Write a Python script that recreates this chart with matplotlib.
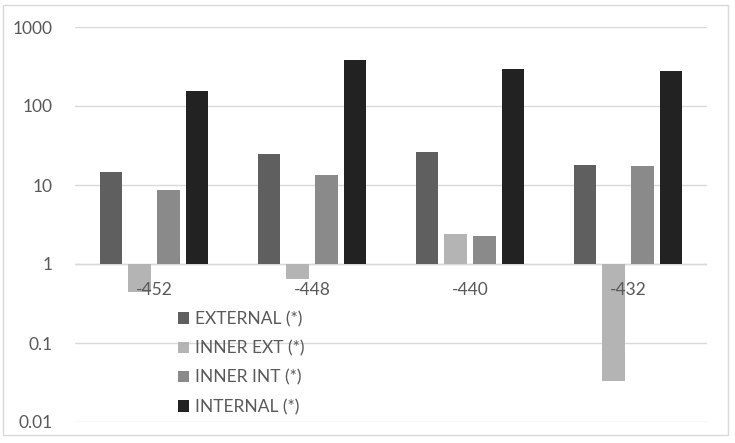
import matplotlib
matplotlib.use("Agg")
import matplotlib.pyplot as plt
import numpy as np
from matplotlib.patches import Rectangle

categories = ["-452", "-448", "-440", "-432"]
series_names = ["EXTERNAL (*)", "INNER EXT (*)", "INNER INT (*)", "INTERNAL (*)"]
external = [14.6, 24.9, 26.4, 17.8]
inner_ext = [0.44, 0.64, 2.38, 0.033]
inner_int = [8.6, 13.3, 2.24, 17.4]
internal = [156, 381, 294, 277]
y_ticks = [0.01, 0.1, 1, 10, 100, 1000]
y_tick_labels = ["0.01", "0.1", "1", "10", "100", "1000"]

colors = ["#5f5f5f", "#b4b4b4", "#8a8a8a", "#222222"]
text_color = "#595959"
grid_color = "#d9d9d9"
plt.rcParams['font.family'] = ['Lato', 'DejaVu Sans']
FS = 12.5

fig = plt.figure(figsize=(7.35, 4.43), dpi=100)
W, H = 735, 443
ax = fig.add_axes([75 / W, (H - 422) / H, (707 - 75) / W, (422 - 27) / H])
ax.set_yscale("log")
ax.set_ylim(0.01, 1000)
ax.set_xlim(-0.5, len(categories) - 0.5)

data = [external, inner_ext, inner_int, internal]
x = np.arange(len(categories))
pitch = 0.182
width = 0.143
for i, (vals, col, name) in enumerate(zip(data, colors, series_names)):
    off = (i - 1.5) * pitch
    vals = np.array(vals)
    ax.bar(x + off, vals - 1, bottom=1, width=width, color=col, label=name, zorder=2)

ax.set_yticks(y_ticks)
ax.set_yticklabels(y_tick_labels)
ax.yaxis.set_minor_locator(matplotlib.ticker.NullLocator())
ax.tick_params(axis="y", length=0, labelsize=FS, labelcolor=text_color, pad=16)
ax.set_xticks([])
for s in ax.spines.values():
    s.set_visible(False)
ax.grid(axis="y", color=grid_color, linewidth=1.0, zorder=0)
ax.set_axisbelow(True)
ax.axhline(1, color=grid_color, linewidth=1.0, zorder=1)

for xi, lab in zip(x, categories):
    ax.annotate(lab, (xi, 1), xytext=(0, -26), textcoords="offset pixels",
                ha="center", va="center", fontsize=FS, color=text_color, zorder=5)

leg = ax.legend(loc="upper left", bbox_to_anchor=(178 / W, 1 - 311 / H),
                bbox_transform=fig.transFigure, frameon=False, fontsize=FS,
                handlelength=0.65, handleheight=0.65, handletextpad=0.35,
                labelspacing=0.76, borderpad=0, borderaxespad=0)
for t in leg.get_texts():
    t.set_color(text_color)

fig.patches.append(Rectangle((3 / W, (H - 435) / H), (728 - 3) / W, (435 - 5) / H,
                             transform=fig.transFigure, fill=False,
                             edgecolor="#d9d9d9", linewidth=1.0))

fig.savefig("out.png", dpi=100)
